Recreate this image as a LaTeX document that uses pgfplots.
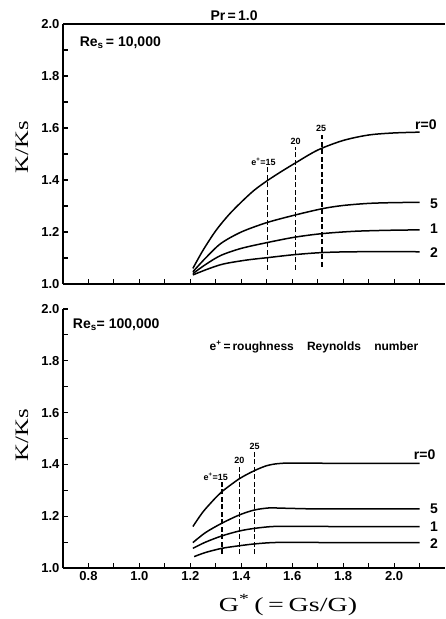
\documentclass[border=0pt]{standalone}
\usepackage{fontspec}
\setmainfont{Liberation Serif}
\newfontfamily\hsans{Liberation Sans}
\usepackage{graphicx}
\usepackage{pgfplots}
\pgfplotsset{compat=1.18}
\newcommand\tk{\hsans\bfseries\fontsize{13}{13}\selectfont}
\newcommand\lb{\hsans\bfseries\fontsize{14}{14}\selectfont}
\newcommand\sm{\hsans\bfseries\fontsize{9}{9}\selectfont}
\pgfplotsset{
  panel/.style={
    scale only axis, width=382pt,
    xmin=0.70, xmax=2.2, ymin=1.0, ymax=2.0,
    axis lines=left, axis line style={-, line width=1.4pt},
    tick align=inside, major tick length=5pt,
    tick style={line width=1.1pt, black},
    xtick={0.8,0.9,1.0,1.1,1.2,1.3,1.4,1.5,1.6,1.7,1.8,1.9,2.0,2.1},
    ytick={1.0,1.1,1.2,1.3,1.4,1.5,1.6,1.7,1.8,1.9,2.0},
    yticklabels={1.0,{},1.2,{},1.4,{},1.6,{},1.8,{},2.0},
    ticklabel style={font=\tk},
    /pgf/number format/assume math mode=true,
    clip=false,
  },
  crv/.style={black, line width=1.5pt, smooth, tension=0.5, no marks},
  dsh/.style={black, line width=1.3pt, dash pattern=on 5pt off 2.5pt, no marks},
}
\begin{document}
\begin{tikzpicture}
\path[use as bounding box] (0,0) rectangle (445pt,619pt);
% ---------------- top panel ----------------
\begin{axis}[panel, height=260pt, at={(63pt,335pt)}, anchor=south west,
  xticklabels={}]
\draw[line width=1.4pt] (rel axis cs:0,1) -- (rel axis cs:1,1);
\addplot[crv] coordinates {(1.21,1.06) (1.25,1.13) (1.30,1.205) (1.35,1.265) (1.40,1.315) (1.45,1.36) (1.50,1.396) (1.55,1.428) (1.61,1.464) (1.70,1.515) (1.80,1.552) (1.90,1.573) (2.0,1.581) (2.10,1.584)};
\addplot[crv] coordinates {(1.21,1.047) (1.26,1.10) (1.32,1.156) (1.40,1.20) (1.50,1.236) (1.61,1.265) (1.72,1.290) (1.80,1.302) (1.90,1.310) (2.0,1.313) (2.10,1.314)};
\addplot[crv] coordinates {(1.21,1.04) (1.26,1.075) (1.32,1.110) (1.40,1.137) (1.50,1.159) (1.61,1.180) (1.72,1.194) (1.85,1.203) (2.0,1.207) (2.10,1.208)};
\addplot[crv] coordinates {(1.21,1.035) (1.27,1.058) (1.33,1.077) (1.42,1.092) (1.50,1.101) (1.61,1.113) (1.72,1.121) (1.85,1.124) (2.10,1.124)};
\addplot[dsh] coordinates {(1.502,1.054) (1.502,1.455)};
\addplot[dsh] coordinates {(1.612,1.054) (1.612,1.525)};
\addplot[dsh] coordinates {(1.717,1.067) (1.717,1.573)};
\node[font=\sm] at (axis cs:1.487,1.470) {e\textsuperscript{+}=15};
\node[font=\sm] at (axis cs:1.613,1.550) {20};
\node[font=\sm] at (axis cs:1.714,1.597) {25};
\node[font=\lb] at (axis cs:2.125,1.612) {r=0};
\node[font=\lb] at (axis cs:2.157,1.31) {5};
\node[font=\lb] at (axis cs:2.157,1.212) {1};
\node[font=\lb] at (axis cs:2.157,1.12) {2};
\node[font=\lb, anchor=west] at (axis cs:0.752,1.927) {Re\textsubscript{s}\,= 10,000};
\node[font=\lb, anchor=south] at (axis cs:1.372,2.0) {Pr\,=\,1.0};
\end{axis}
% ---------------- bottom panel ----------------
\begin{axis}[panel, height=259pt, at={(63pt,51pt)}, anchor=south west,
  xticklabels={0.8,{},1.0,{},1.2,{},1.4,{},1.6,{},1.8,{},2.0,{}}]
\addplot[crv] coordinates {(1.21,1.16) (1.25,1.217) (1.30,1.272) (1.324,1.295) (1.393,1.345) (1.452,1.376) (1.50,1.395) (1.544,1.403) (1.60,1.405) (1.8,1.404) (2.0,1.404) (2.10,1.404)};
\addplot[crv] coordinates {(1.21,1.098) (1.26,1.137) (1.324,1.173) (1.393,1.205) (1.452,1.224) (1.51,1.232) (1.56,1.231) (1.7,1.228) (1.9,1.228) (2.10,1.228)};
\addplot[crv] coordinates {(1.21,1.076) (1.26,1.10) (1.324,1.124) (1.393,1.143) (1.452,1.153) (1.52,1.160) (1.6,1.161) (1.8,1.160) (2.10,1.160)};
\addplot[crv] coordinates {(1.215,1.044) (1.26,1.06) (1.324,1.076) (1.393,1.086) (1.452,1.093) (1.52,1.098) (1.6,1.099) (1.8,1.098) (2.10,1.098)};
\addplot[dsh] coordinates {(1.324,1.054) (1.324,1.335)};
\addplot[dsh] coordinates {(1.393,1.054) (1.393,1.39)};
\addplot[dsh] coordinates {(1.452,1.054) (1.452,1.449)};
\node[font=\sm] at (axis cs:1.300,1.352) {e\textsuperscript{+}=15};
\node[font=\sm] at (axis cs:1.393,1.416) {20};
\node[font=\sm] at (axis cs:1.452,1.470) {25};
\node[font=\lb] at (axis cs:2.12,1.436) {r=0};
\node[font=\lb] at (axis cs:2.157,1.227) {5};
\node[font=\lb] at (axis cs:2.157,1.159) {1};
\node[font=\lb] at (axis cs:2.157,1.093) {2};
\node[font=\lb, anchor=west] at (axis cs:0.725,1.938) {Re\textsubscript{s}= 100,000};
\node[font=\hsans\bfseries\fontsize{12}{12}\selectfont, anchor=west] at (axis cs:1.262,1.853) {e\textsuperscript{+}\,=\,roughness\hspace{1.1em}Reynolds\hspace{1.1em}number};
\end{axis}
% axis labels
\node[rotate=90] at (22pt,472pt) {\scalebox{1.3}[1]{\fontsize{19}{19}\selectfont K/Ks}};
\node[rotate=90] at (22pt,184pt) {\scalebox{1.3}[1]{\fontsize{19}{19}\selectfont K/Ks}};
\node at (288pt,14pt) {\scalebox{1.4}[1]{\fontsize{20}{20}\selectfont G\textsuperscript{*}\,(\,=\,Gs/G)}};
\end{tikzpicture}
\end{document}
